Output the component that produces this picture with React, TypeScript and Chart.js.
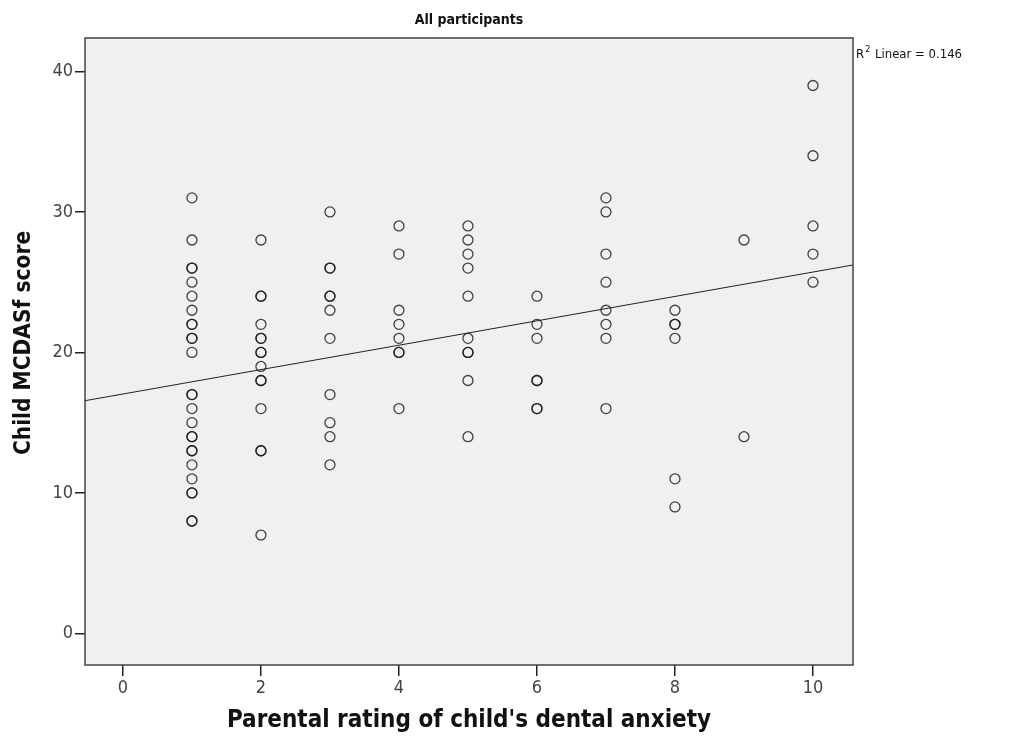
import React, { useEffect, useRef } from "react";
import { Chart, registerables } from "chart.js";

Chart.register(...registerables);

// Child MCDASf scores grouped by parental anxiety rating (repeats = several children)
const rating = [1, 2, 3, 4, 5, 6, 7, 8, 9, 10];
const scores1 = [31, 28, 26, 26, 25, 24, 23, 22, 22, 21, 21, 20, 17, 17, 16, 15, 14, 14, 13, 13, 12, 11, 10, 10, 8, 8];
const scores2 = [28, 24, 24, 22, 21, 21, 20, 20, 19, 18, 18, 16, 13, 13, 7];
const scores3 = [30, 26, 26, 24, 24, 23, 21, 17, 15, 14, 12];
const scores4 = [29, 27, 23, 22, 21, 20, 20, 16];
const scores5 = [29, 28, 27, 26, 24, 21, 20, 20, 18, 14];
const scores6 = [24, 22, 21, 18, 18, 16, 16];
const scores7 = [31, 30, 27, 25, 23, 22, 21, 16];
const scores8 = [23, 22, 22, 21, 11, 9];
const scores9 = [28, 14];
const scores10 = [39, 34, 29, 27, 25];
const scoreGroups = [scores1, scores2, scores3, scores4, scores5, scores6, scores7, scores8, scores9, scores10];

// Linear fit reported on the plot
const fitIntercept = 17.04;
const fitSlope = 0.868;
const rSquared = "0.146";

const xTicks = [0, 2, 4, 6, 8, 10];
const yTicks = [0, 10, 20, 30, 40];
const xRange = [-0.55, 10.58];
const yRange = [-2.25, 42.38];

const FONT = "'DejaVu Sans Condensed', 'DejaVu Sans', sans-serif";

const frame = {
  id: "frame",
  beforeDatasetsDraw(chart: any) {
    const { ctx, chartArea: a } = chart;
    ctx.save();
    ctx.fillStyle = "#f0f0f0";
    ctx.fillRect(a.left, a.top, a.right - a.left, a.bottom - a.top);
    ctx.restore();
  },
  afterDraw(chart: any) {
    const { ctx, chartArea: a } = chart;
    ctx.save();
    ctx.strokeStyle = "#444";
    ctx.lineWidth = 1.5;
    ctx.strokeRect(a.left, a.top, a.right - a.left, a.bottom - a.top);

    const cx = (a.left + a.right) / 2;
    ctx.fillStyle = "#111";
    ctx.textAlign = "center";
    ctx.textBaseline = "middle";
    ctx.font = `bold 14px ${FONT}`;
    ctx.fillText("All participants", cx, 20);

    ctx.font = `bold 24px ${FONT}`;
    ctx.fillText("Parental rating of child's dental anxiety", cx, 721);

    ctx.save();
    ctx.translate(24, 343);
    ctx.rotate(-Math.PI / 2);
    ctx.font = `bold 22.5px ${FONT}`;
    ctx.fillText("Child MCDASf score", 0, 0);
    ctx.restore();

    // R² annotation beside the top-right corner
    ctx.textAlign = "left";
    ctx.font = `13px ${FONT}`;
    const x0 = a.right + 3;
    const y0 = 55;
    ctx.fillText("R", x0, y0);
    const rw = ctx.measureText("R").width;
    ctx.font = `9px ${FONT}`;
    ctx.fillText("2", x0 + rw + 1, y0 - 5);
    const sw = ctx.measureText("2").width;
    ctx.font = `13px ${FONT}`;
    ctx.fillText(" Linear = " + rSquared, x0 + rw + sw + 2, y0);
    ctx.restore();
  },
};

export default function App() {
  const ref = useRef<HTMLCanvasElement>(null);

  useEffect(() => {
    const points: { x: number; y: number }[] = [];
    rating.forEach((r, i) => scoreGroups[i].forEach((s) => points.push({ x: r, y: s })));
    const fitLine = xRange.map((x) => ({ x, y: fitIntercept + fitSlope * x }));

    const chart = new Chart(ref.current!, {
      type: "scatter",
      data: {
        datasets: [
          {
            data: fitLine,
            showLine: true,
            borderColor: "#222",
            borderWidth: 1,
            pointRadius: 0,
            type: "line",
          } as any,
          {
            data: points,
            pointRadius: 5,
            pointBorderWidth: 1.3,
            pointBackgroundColor: "rgba(0,0,0,0)",
            pointBorderColor: "rgba(20,20,20,0.8)",
          },
        ],
      },
      plugins: [frame],
      options: {
        animation: false,
        responsive: false,
        layout: { padding: { top: 38, right: 161, left: 0, bottom: 0 } },
        plugins: { legend: { display: false }, tooltip: { enabled: false } },
        scales: {
          x: {
            type: "linear",
            min: xRange[0],
            max: xRange[1],
            afterBuildTicks: (s: any) => {
              s.ticks = xTicks.map((v) => ({ value: v }));
            },
            afterFit: (s: any) => {
              s.height = 78;
            },
            grid: { drawOnChartArea: false, drawTicks: true, tickLength: 11, color: "#222", lineWidth: 1.5 },
            border: { display: false },
            ticks: { color: "#444", font: { family: FONT, size: 18 }, padding: 2, maxRotation: 0 },
          },
          y: {
            type: "linear",
            min: yRange[0],
            max: yRange[1],
            afterBuildTicks: (s: any) => {
              s.ticks = yTicks.map((v) => ({ value: v }));
            },
            afterFit: (s: any) => {
              s.width = 85;
            },
            grid: { drawOnChartArea: false, drawTicks: true, tickLength: 10, color: "#222", lineWidth: 1.5 },
            border: { display: false },
            ticks: { color: "#444", font: { family: FONT, size: 18 }, padding: 2 },
          },
        },
      },
    });
    return () => chart.destroy();
  }, []);

  return (
    <div style={{ position: "absolute", left: 0, top: 0, width: 1014, height: 743, background: "#fff" }}>
      <canvas ref={ref} width={1014} height={743} />
    </div>
  );
}
